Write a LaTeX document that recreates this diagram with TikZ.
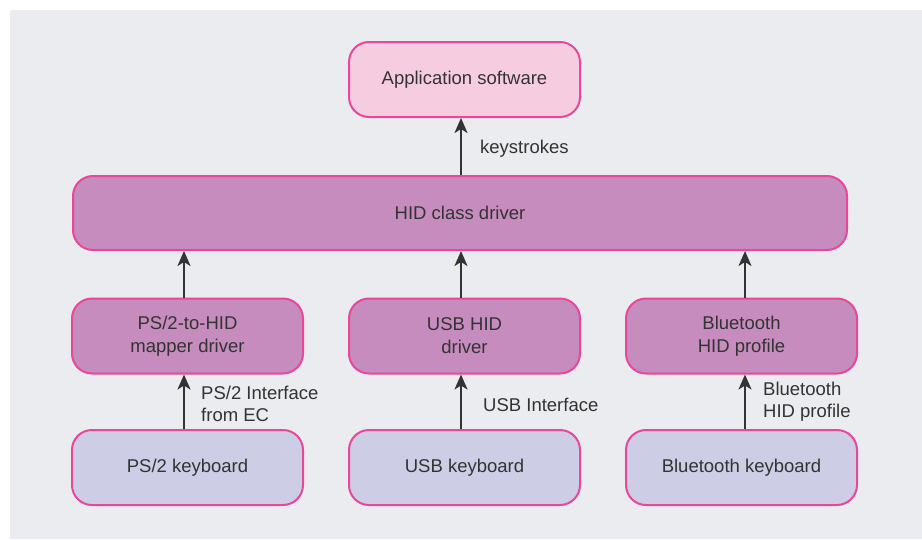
\documentclass[tikz,border=0pt]{standalone}
\usepackage{fontspec}
\setmainfont{Liberation Sans}
\usetikzlibrary{arrows.meta}
\definecolor{bgc}{HTML}{EBECEF}
\definecolor{edgec}{HTML}{E8479A}
\definecolor{appc}{HTML}{F6CDE0}
\definecolor{drvc}{HTML}{C68CBD}
\definecolor{kbdc}{HTML}{CDCDE5}
\definecolor{txtc}{HTML}{333333}
\tikzset{
  box/.style={draw=edgec, line width=2pt, rounded corners=20pt, minimum width=231pt, minimum height=75pt, align=center, text=txtc, font=\fontsize{18.5}{23}\selectfont},
  appbox/.style={box, fill=appc},
  drvbox/.style={box, fill=drvc},
  kbdbox/.style={box, fill=kbdc},
  arr/.style={draw=txtc, line width=2.2pt, -{Stealth[length=15pt,width=13pt,inset=4pt]}},
  lbl/.style={text=txtc, align=left, anchor=west, inner sep=0pt, font=\fontsize{18.5}{22}\selectfont}
}
\begin{document}
\begin{tikzpicture}[x=1pt,y=-1pt]
\useasboundingbox (0,0) rectangle (922,539);
\fill[bgc] (10,10) rectangle (922,539);
\node[appbox] (app) at (464.5,79.5) {Application software};
\node[drvbox, minimum width=774pt, minimum height=74pt] (hid) at (460,213) {HID class driver};
\node[drvbox] (ps2m) at (187.5,336) {PS/2-to-HID\\mapper driver};
\node[drvbox] (usbm) at (464.5,336) {USB HID\\driver};
\node[drvbox] (btm) at (741.5,336) {Bluetooth\\HID profile};
\node[kbdbox] (ps2k) at (187.5,467.5) {PS/2 keyboard};
\node[kbdbox] (usbk) at (464.5,467.5) {USB keyboard};
\node[kbdbox] (btk) at (741.5,467.5) {Bluetooth keyboard};
\draw[arr] (hid.north -| 461,0) -- (app.south -| 461,0);
\draw[arr] (ps2m.north -| 184,0) -- (hid.south -| 184,0);
\draw[arr] (usbm.north -| 461,0) -- (hid.south -| 461,0);
\draw[arr] (btm.north -| 745,0) -- (hid.south -| 745,0);
\draw[arr] (ps2k.north -| 184,0) -- (ps2m.south -| 184,0);
\draw[arr] (usbk.north -| 461,0) -- (usbm.south -| 461,0);
\draw[arr] (btk.north -| 745,0) -- (btm.south -| 745,0);
\node[lbl] (l1) at (480,149) {keystrokes};
\node[lbl] (l2) at (201,404) {PS/2 Interface\\from EC};
\node[lbl] (l3) at (483,405) {USB Interface};
\node[lbl] (l4) at (763,402) {Bluetooth\\HID profile};
\end{tikzpicture}
\end{document}
